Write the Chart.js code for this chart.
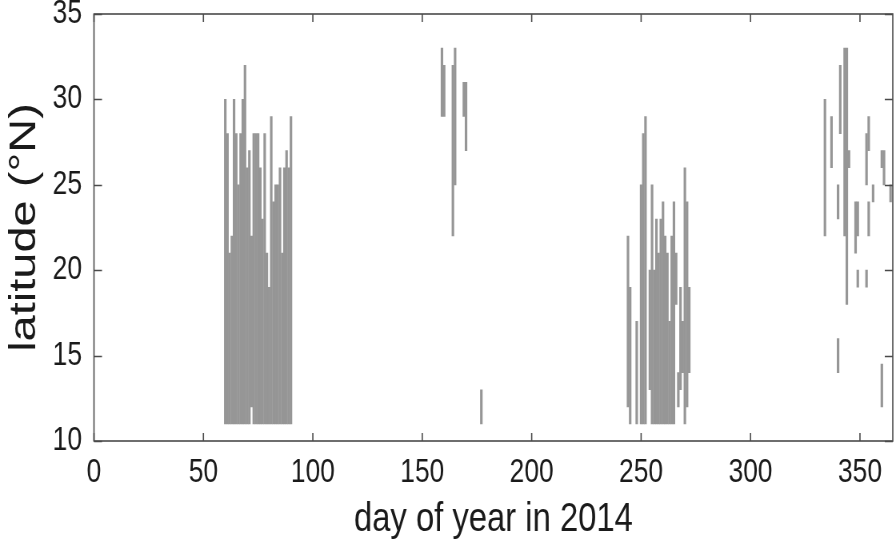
<!DOCTYPE html>
<html>
<head>
<meta charset="utf-8">
<script src="https://cdn.jsdelivr.net/npm/chart.js@4.4.1/dist/chart.umd.min.js"></script>
<style>
  html, body { margin: 0; background: #fff; overflow: hidden; }
  /* the original figure is squeezed horizontally, so the chart is drawn wider and scaled down */
  .chart-box { width: 1120px; height: 544px; transform: scaleX(0.8); transform-origin: 0 0; }
</style>
</head>
<body>
<div class="chart-box"><canvas id="latChart"></canvas></div>
<script>
// each entry: one vertical segment, day of year and latitude range (deg N)
const days = [
  60, 61, 62, 63, 64, 65, 66, 67, 68, 69, 70, 71, 72, 73, 74, 75,
  76, 77, 78, 79, 80, 81, 82, 83, 84, 85, 86, 87, 88, 89, 90,
  159, 160, 164, 165, 169, 170, 177,
  244, 245, 248, 250, 251, 252, 254, 255, 256, 257, 258, 259, 260, 261,
  262, 263, 264, 265, 266, 267, 268, 269, 270, 271, 272,
  334, 337, 340, 340, 341, 343, 344, 345, 348, 349, 349, 353, 353, 354,
  354, 356, 360, 360, 361, 364
];
const latLow = [
  11, 11, 11, 11, 11, 11, 11, 11, 11, 11, 11, 11, 12, 11, 11, 11,
  11, 11, 11, 11, 11, 11, 11, 11, 11, 11, 11, 11, 11, 11, 11,
  29, 29, 22, 25, 29, 27, 11,
  12, 11, 11, 11, 11, 11, 13, 11, 11, 11, 11, 11, 11, 11,
  11, 11, 11, 11, 18, 12, 13, 14, 11, 12, 14,
  22, 26, 23, 14, 28, 22, 18, 26, 21, 22, 19, 25, 19, 27,
  22, 24, 26, 12, 25, 24
];
const latHigh = [
  30, 28, 21, 22, 30, 28, 25, 28, 30, 32, 26, 27, 22, 28, 28, 28,
  26, 23, 28, 21, 19, 29, 24, 25, 25, 26, 21, 26, 27, 26, 29,
  33, 32, 32, 33, 31, 31, 13,
  22, 19, 17, 25, 28, 29, 20, 25, 20, 23, 21, 23, 24, 22,
  21, 17, 22, 24, 21, 14, 19, 17, 26, 24, 19,
  30, 29, 25, 16, 32, 33, 33, 27, 24, 24, 20, 28, 20, 29,
  24, 25, 27, 14.5, 27, 25
];
const xTicks = [0, 50, 100, 150, 200, 250, 300, 350];
const yTicks = [10, 15, 20, 25, 30, 35];

const barColor = '#969696';
const axisColor = '#4a4a4a';
const textColor = '#1a1a1a';
const fontFamily = "'Liberation Sans', Arial, sans-serif";

const segments = days.map((d, i) => ({ x: d, y: [latLow[i], latHigh[i]] }));

// box round the plot with ticks pointing inward, like the original figure
const frameTicks = {
  id: 'frameTicks',
  afterDatasetsDraw(chart) {
    const { ctx, chartArea: a, scales: { x, y } } = chart;
    ctx.save();
    ctx.strokeStyle = axisColor;
    ctx.lineWidth = 1.6;
    ctx.strokeRect(a.left, a.top, a.right - a.left, a.bottom - a.top);
    ctx.beginPath();
    xTicks.forEach(v => {
      const px = x.getPixelForValue(v);
      ctx.moveTo(px, a.bottom); ctx.lineTo(px, a.bottom - 8);
      ctx.moveTo(px, a.top); ctx.lineTo(px, a.top + 8);
    });
    yTicks.forEach(v => {
      const py = Math.round(y.getPixelForValue(v)) + 0.5;
      ctx.moveTo(a.left, py); ctx.lineTo(a.left + 10, py);
      ctx.moveTo(a.right, py); ctx.lineTo(a.right - 10, py);
    });
    ctx.stroke();
    ctx.restore();
  }
};

new Chart(document.getElementById('latChart'), {
  type: 'bar',
  data: {
    datasets: [{
      data: segments,
      backgroundColor: barColor,
      borderWidth: 0,
      barThickness: 2.5,
      grouped: false
    }]
  },
  options: {
    responsive: true,
    maintainAspectRatio: false,
    animation: false,
    layout: { padding: { left: 0, top: 14, right: 4, bottom: 0 } },
    plugins: { legend: { display: false }, tooltip: { enabled: false } },
    scales: {
      x: {
        type: 'linear',
        min: 0,
        max: 365,
        offset: false,
        grid: { display: false, drawTicks: false },
        border: { display: false },
        afterBuildTicks: s => { s.ticks = xTicks.map(v => ({ value: v })); },
        afterFit: s => { s.height = 103; s.paddingLeft = 0; s.paddingRight = 0; },
        ticks: { color: textColor, padding: 12, maxRotation: 0, font: { family: fontFamily, size: 33 } },
        title: { display: true, text: 'day of year in 2014', color: textColor, padding: { top: 0, bottom: 0 }, font: { family: fontFamily, size: 41 } }
      },
      y: {
        min: 10,
        max: 35,
        grid: { display: false, drawTicks: false },
        border: { display: false },
        afterBuildTicks: s => { s.ticks = yTicks.map(v => ({ value: v })); },
        afterFit: s => { s.width = 117.5; s.paddingTop = 0; s.paddingBottom = 0; },
        ticks: { color: textColor, padding: 15, font: { family: fontFamily, size: 33 } },
        title: { display: true, text: 'latitude (\u00B0N)', color: textColor, padding: { top: 3, bottom: 0 }, font: { family: fontFamily, size: 47 } }
      }
    }
  },
  plugins: [frameTicks]
});
</script>
</body>
</html>
